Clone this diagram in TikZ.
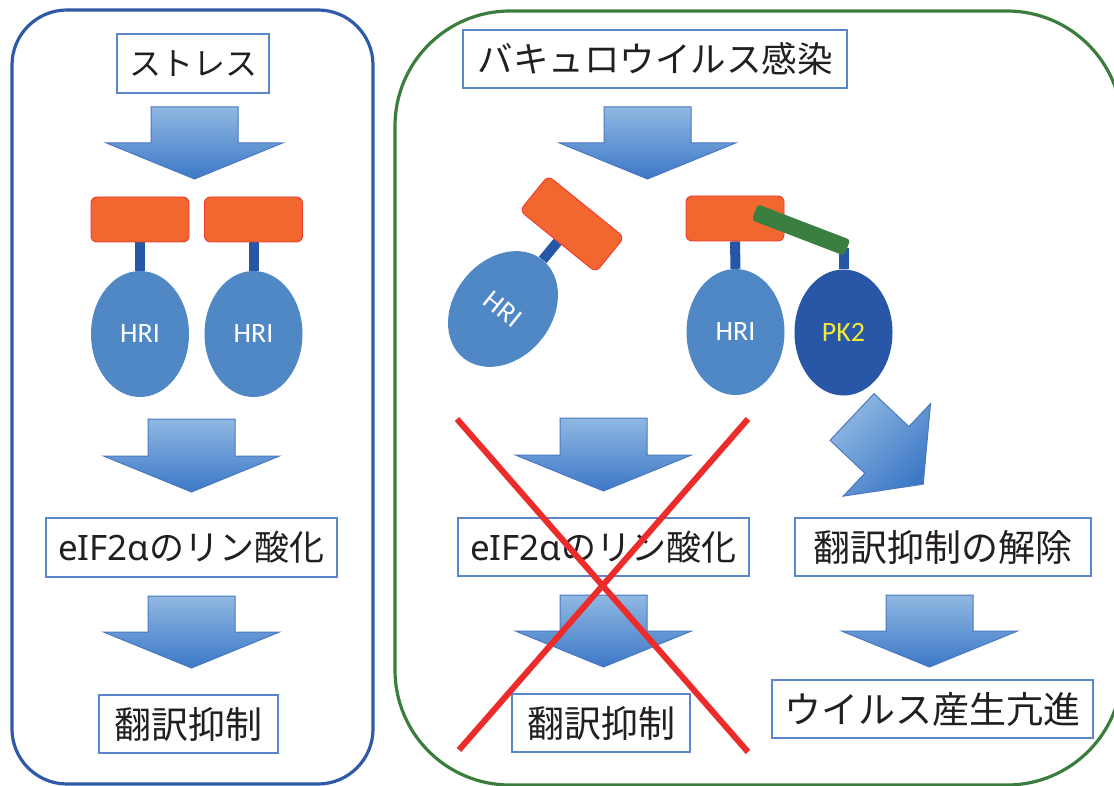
\documentclass[tikz,border=0pt]{standalone}
\usepackage{fontspec}
\setmainfont{Noto Sans CJK JP}
\newfontfamily\calib{Carlito}
\newfontfamily\latn{Noto Sans}
\usetikzlibrary{shapes.geometric}
\definecolor{lboxc}{HTML}{2F5AA8}
\definecolor{gboxc}{HTML}{3A7D3C}
\definecolor{tboxc}{HTML}{5B86C9}
\definecolor{txtc}{HTML}{231F20}
\definecolor{orangef}{HTML}{F26730}
\definecolor{oredc}{HTML}{EE3B2C}
\definecolor{stemc}{HTML}{2656A6}
\definecolor{hric}{HTML}{5088C6}
\definecolor{pkc}{HTML}{2757A6}
\definecolor{pkt}{HTML}{F2E83C}
\definecolor{gbarc}{HTML}{3A7F3F}
\definecolor{crossc}{HTML}{EC2B2B}
\definecolor{alight}{HTML}{90B8E2}
\definecolor{adark}{HTML}{3C78C6}
\definecolor{aedge}{HTML}{4A78C2}
\pgfdeclarelayer{bg}
\pgfsetlayers{bg,main}
\newcommand{\varrow}[4]{\shadedraw[barrow] ({#1-43.5},#2) -- ({#1+43.5},#2) -- ({#1+43.5},#3) -- ({#1+88},#3) -- (#1,#4) -- ({#1-88},#3) -- ({#1-43.5},#3) -- cycle;}
\newcommand{\eif}{{\latn eIF2α}のリン酸化}
\begin{document}
\begin{tikzpicture}[x=1pt,y=-1pt,
  tbox/.style={draw=tboxc, line width=1.4pt, fill=white, inner sep=0pt, text=txtc, font=\fontsize{37}{44}\selectfont},
  orect/.style={draw=oredc, line width=0.9pt, fill=orangef, rounded corners=6pt, minimum width=98pt, minimum height=45pt, inner sep=0pt},
  hri/.style={ellipse, fill=hric, minimum width=98pt, minimum height=126pt, inner sep=0pt, text=white, font=\calib\fontsize{28}{30}\selectfont},
  pk/.style={hri, fill=pkc, text=pkt},
  stem/.style={line width=10pt, draw=stemc},
  gbar/.style={fill=gbarc, rounded corners=3pt, minimum width=99pt, minimum height=17pt, inner sep=0pt},
  crossline/.style={draw=crossc, line width=6pt},
  barrow/.style={top color=alight, bottom color=adark, draw=aedge, line width=1pt},
  panel/.style={line width=3.2pt}]
\useasboundingbox (0,0) rectangle (1114,786);
\clip (0,0) rectangle (1114,786);
\begin{pgfonlayer}{bg}
\fill[white] (0,0) rectangle (1114,786);
\end{pgfonlayer}
% panels
\draw[panel, draw=lboxc, rounded corners=55pt] (12,10) rectangle (373,784);
\draw[panel, draw=gboxc, rounded corners=115pt] (395,11) rectangle (1122,785);
% left panel
\node[tbox, font=\fontsize{32}{40}\selectfont, minimum width=152pt, minimum height=59pt] (stress) at (193,63.5) {ストレス};
\varrow{194.5}{107}{143}{179}
\node[orect] (r1) at (140,219.5) {};
\node[orect] (r2) at (253.5,219.5) {};
\node[hri] (h1) at (140,334) {HRI};
\node[hri] (h2) at (253.5,334) {HRI};
\begin{pgfonlayer}{bg}
\draw[stem] (r1.south) -- (h1.north);
\draw[stem] (r2.south) -- (h2.north);
\end{pgfonlayer}
\varrow{191.5}{419}{456}{492}
\node[tbox, font=\fontsize{35}{42}\selectfont, minimum width=291pt, minimum height=59pt] (eifL) at (191.5,547.5) {\eif};
\varrow{191.5}{596}{632}{668}
\node[tbox, minimum width=179pt, minimum height=58pt] (transL) at (188.5,724) {翻訳抑制};
% right panel
\node[tbox, font=\fontsize{35.5}{42}\selectfont, minimum width=384pt, minimum height=58pt] (baculo) at (655,59) {バキュロウイルス感染};
\varrow{647.5}{107}{143}{179}
\node[orect, rotate=-39] (r3) at (572,224) {};
\node[hri, rotate=-39] (h3) at (503,309) {HRI};
\node[orect] (r4) at (735,218.5) {};
\node[hri] (h4) at (735.5,332) {HRI};
\node[pk] (pk2) at (843.5,332.5) {PK2};
\node[gbar, rotate=-21] (gb) at (801,230) {};
\begin{pgfonlayer}{bg}
\draw[stem] (r3.south) -- (h3.north);
\draw[stem] (r4.south) -- (h4.north);
\draw[stem] (pk2.north) -- (pk2.north |- gb.east);
\end{pgfonlayer}
% diagonal arrow
\shadedraw[top color=alight, bottom color=adark, shading angle=45, draw=aedge, line width=1pt]
  (874,393.7) -- (908.9,426.6) -- (930.5,403.7) -- (923.2,484.2) -- (843.3,496.1) -- (864.9,473.2) -- (830,440.3) -- cycle;
\varrow{603.5}{418}{455}{491}
\node[tbox, font=\fontsize{35}{42}\selectfont, minimum width=291pt, minimum height=58pt] (eifR) at (603.5,547) {\eif};
\varrow{603.5}{595}{631}{667}
\node[tbox, minimum width=178pt, minimum height=58pt] (transR) at (601,723) {翻訳抑制};
\node[tbox, minimum width=296pt, minimum height=58pt] (release) at (943,547) {翻訳抑制の解除};
\varrow{929.5}{595}{631}{667}
\node[tbox, minimum width=321pt, minimum height=58pt] (virus) at (932.5,709) {ウイルス産生亢進};
% red cross
\coordinate (c1) at (457,419);
\coordinate (c2) at (748,752);
\coordinate (c3) at (748,419);
\coordinate (c4) at (459,750);
\draw[crossline] (c1) -- (c2);
\draw[crossline] (c3) -- (c4);
\end{tikzpicture}
\end{document}
